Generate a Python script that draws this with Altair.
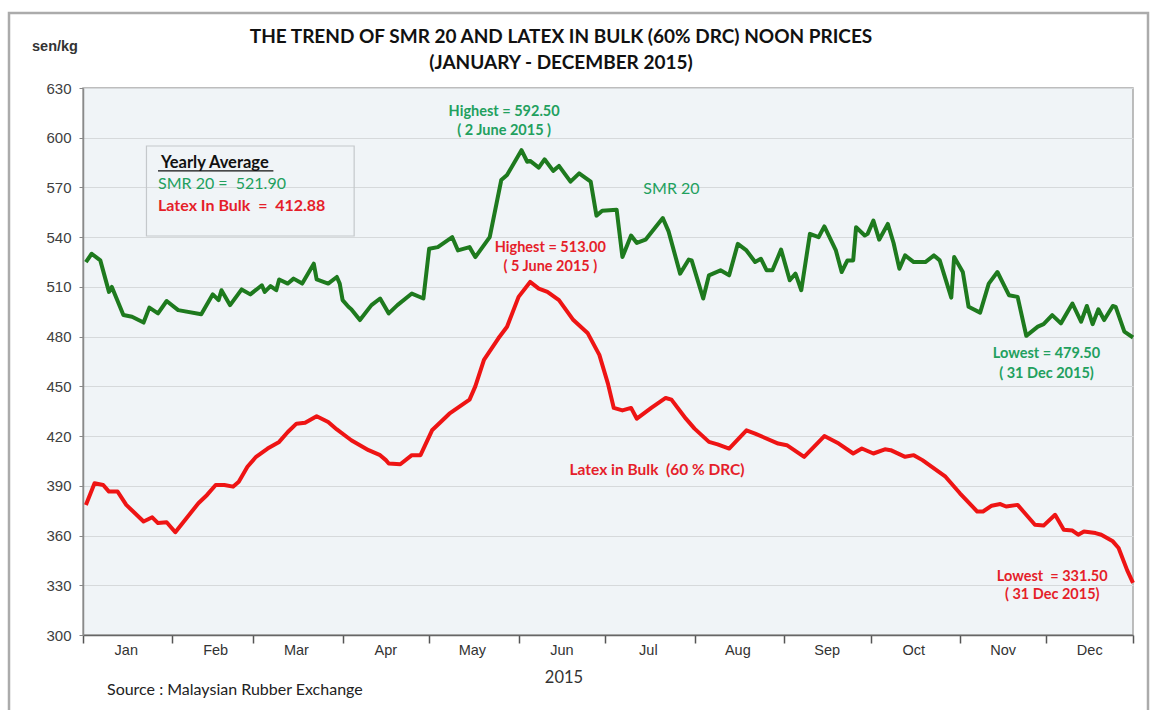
import altair as alt
import pandas as pd

# ---------------- data ----------------
smr_dates = ["01-02","01-04","01-07","01-10","01-11","01-15","01-18","01-22","01-24","01-27","01-30",
             "02-03","02-11","02-15","02-17","02-18","02-21","02-25","02-28",
             "03-04","03-05","03-07","03-09","03-10","03-13","03-15","03-18","03-22","03-23","03-27","03-30","03-31",
             "04-01","04-03","04-04","04-07","04-11","04-14","04-17","04-20","04-25","04-29",
             "05-01","05-04","05-09","05-11","05-15","05-17","05-22","05-26","05-28",
             "06-02","06-04","06-05","06-08","06-10","06-13","06-15","06-19","06-22","06-26","06-28","06-30",
             "07-05","07-07","07-10","07-12","07-15","07-21","07-23","07-27","07-30","07-31",
             "08-04","08-06","08-10","08-13","08-16","08-19","08-22","08-24","08-26","08-28","08-31",
             "09-03","09-05","09-07","09-10","09-13","09-15","09-19","09-21","09-23","09-25","09-26","09-29","09-30",
             "10-02","10-04","10-07","10-09","10-11","10-13","10-16","10-20","10-23","10-25","10-29","10-30",
             "11-02","11-04","11-08","11-11","11-14","11-18","11-21","11-24","11-28","11-30",
             "12-03","12-06","12-10","12-13","12-15","12-17","12-19","12-21","12-24","12-25","12-28","12-31"]
smr_values = [525,530,526,507,510,493,492,488.5,497.5,494,501.5,
              496,493.5,505.5,502,508,499,508.5,505.5,
              511,507,510.5,508,514.5,512,515,512,524,514.5,512,516,512,
              502,498,496.5,490,499,503,494,499,506,503,
              533,534,540,532,534,528,540,574.5,577.5,
              592.5,585.5,586,582,587,580,583,573.5,578.5,573.5,553,556,
              556.5,528,541,536.5,538.5,551.5,543.5,518,526.5,526,
              503,517,520,517,536,532,525,527,520,520,532.5,
              514,518,508,542,540,546.5,532,519,526,526,546,541,542,
              550,538.5,548,536.5,521,529,525,525,529,526,503.5,528,
              519,498,494.5,512,519,505,504,480.5,486,487.5,
              493,488,500,489,498.5,487.5,496.5,490,498.5,498,483,479.5]

latex_dates = ["01-02","01-05","01-08","01-10","01-13","01-16","01-22","01-25","01-27","01-30",
               "02-02","02-10","02-13","02-16","02-19","02-22","02-24","02-27",
               "03-02","03-06","03-10","03-13","03-16","03-19","03-23","03-27","03-30",
               "04-04","04-10","04-14","04-16","04-17","04-21","04-25","04-28",
               "05-02","05-08","05-15","05-17","05-20","05-25","05-28",
               "06-01","06-05","06-08","06-11","06-15","06-20","06-25","06-29",
               "07-02","07-04","07-07","07-10","07-12","07-17","07-22","07-24","07-29",
               "08-01","08-06","08-09","08-13","08-19","08-22","08-30",
               "09-02","09-08","09-15","09-20","09-25","09-28","09-30",
               "10-02","10-06","10-08","10-13","10-16","10-19","10-27",
               "11-01","11-07","11-09","11-12","11-15","11-17","11-21","11-23","11-27","11-30",
               "12-04","12-07","12-10","12-12","12-14","12-18","12-20","12-24","12-26","12-29","12-31"]
latex_values = [378.5,391.5,390.5,386.5,386.5,378.5,368.5,371,367.5,368,
                362,379.5,384.5,390.5,390.5,389.5,392.5,401.5,
                407.5,412.5,416.5,422.5,427.5,428,432,428.5,424,
                417.5,411.5,408.5,405.5,403.5,403,408.5,408.5,
                423.5,433.5,442,450,466,479,486,
                504,513,509,507,502,490,482,469,
                451.5,437,435.5,437,430.5,437,443,442,430.5,
                424.5,416.5,415,412.5,423.5,421.5,415.5,
                414.5,407.5,420,415.5,409.5,412.5,411,
                409.5,412,411.5,407.5,408.5,405.5,395.5,
                385.5,374.5,374.5,378,379,377.5,378.5,374.5,366.5,366,
                372.5,363.5,363,360.5,362.5,361.5,360.5,356.5,352.5,339,331.5]

series_names = ["SMR 20", "Latex in Bulk"]
series_colors = ["#1E7A1E", "#EE1414"]

month_names = ["Jan","Feb","Mar","Apr","May","Jun","Jul","Aug","Sep","Oct","Nov","Dec"]
y_ticks = list(range(300, 631, 30))

GREEN_TXT = "#22A05E"
RED_TXT = "#E51E2A"
NB = "\u00a0"

W, H = 1050, 547


def d(md):
    return "2015-" + md + "T00:00:00"


rows = []
for md, v in zip(smr_dates, smr_values):
    rows.append({"date": d(md), "price": v, "series": series_names[0]})
for md, v in zip(latex_dates, latex_values):
    rows.append({"date": d(md), "price": v, "series": series_names[1]})
df = pd.DataFrame(rows)

xscale = alt.Scale(domain=[alt.DateTime(year=2015, month=1, date=1),
                           alt.DateTime(year=2015, month=12, date=31)], nice=False)
yscale = alt.Scale(domain=[300, 630], nice=False, zero=False)

tick_vals = [alt.DateTime(year=2015, month=m, date=1) for m in range(1, 13)] + \
            [alt.DateTime(year=2015, month=12, date=31)]

lines = alt.Chart(df).mark_line(strokeWidth=4, strokeJoin="round").encode(
    x=alt.X("date:T", scale=xscale,
            axis=alt.Axis(values=tick_vals, labels=False, tickSize=8, tickWidth=1.5,
                          tickColor="#555555", domainColor="#666666", domainWidth=1.5,
                          grid=False, title=None)),
    y=alt.Y("price:Q", scale=yscale,
            axis=alt.Axis(values=y_ticks, tickSize=4, tickColor="#888888",
                          domainColor="#8A8A8A", domainWidth=1.5,
                          gridColor="#D6D9DB", gridWidth=1.2,
                          labelFont="Liberation Sans", labelFontSize=15,
                          labelColor="#404040", labelPadding=8, title=None)),
    color=alt.Color("series:N", scale=alt.Scale(domain=series_names, range=series_colors),
                    legend=None),
    order=alt.Order("date:T"),
)


def label(texts, dates, vals, color, size, weight="bold", align="center", font="Lato"):
    tdf = pd.DataFrame({"date": [d(x) for x in dates], "price": vals, "t": texts})
    return alt.Chart(tdf).mark_text(color=color, fontSize=size, fontWeight=weight,
                                    font=font, align=align, baseline="middle").encode(
        x=alt.X("date:T", scale=xscale),
        y=alt.Y("price:Q", scale=yscale),
        text="t:N",
    )


annotations = [
    label(["Highest = 592.50", "( 2 June 2015 )"], ["05-27", "05-27"], [615.7, 604.2], GREEN_TXT, 14.5),
    label(["SMR 20"], ["07-24"], [569.0], GREEN_TXT, 16, weight="normal"),
    label(["Highest = 513.00", "( 5 June 2015 )"], ["06-12", "06-12"], [533.5, 522.0], RED_TXT, 14.5),
    label(["Latex in Bulk" + NB * 2 + "(60 % DRC)"], ["07-19"], [399.5], RED_TXT, 15.5),
    label(["Lowest = 479.50", "( 31 Dec 2015)"], ["12-01", "12-01"], [469.5, 457.5], GREEN_TXT, 14.5),
    label(["Lowest" + NB * 2 + "= 331.50", "( 31 Dec 2015)"], ["12-03", "12-03"], [335.2, 324.0], RED_TXT, 14.5),
    label(["Yearly Average"], ["01-28"], [584.5], "#111111", 16.5, align="left"),
    label(["SMR 20 =" + NB * 2 + "521.90"], ["01-27"], [572.0], GREEN_TXT, 16, weight="normal", align="left"),
    label(["Latex In Bulk" + NB * 2 + "=" + NB * 2 + "412.88"], ["01-27"], [558.8], RED_TXT, 16, align="left"),
]

box_df = pd.DataFrame({"x1": [d("01-23")], "x2": [d("04-05")], "y1": [595.0], "y2": [540.7]})
box = alt.Chart(box_df).mark_rect(filled=False, stroke="#C4C8CB", strokeWidth=1.2).encode(
    x=alt.X("x1:T", scale=xscale), x2="x2:T",
    y=alt.Y("y1:Q", scale=yscale), y2="y2:Q",
)

ul_df = pd.DataFrame({"x1": [d("01-27")], "x2": [d("03-08")], "y": [580.0]})
underline = alt.Chart(ul_df).mark_rule(color="#111111", strokeWidth=1.3).encode(
    x=alt.X("x1:T", scale=xscale), x2="x2:T",
    y=alt.Y("y:Q", scale=yscale),
)

mdf = pd.DataFrame({"date": [d("%02d-16" % m) for m in range(1, 13)], "t": month_names})
months = alt.Chart(mdf).mark_text(font="Liberation Sans", fontSize=14.5, color="#333333",
                                  baseline="middle").encode(
    x=alt.X("date:T", scale=xscale),
    y=alt.value(H + 16),
    text="t:N",
)


def pix_text(txt, x, y, size, weight="normal", font="Lato", color="#222222", align="center"):
    return alt.Chart(pd.DataFrame({"t": [txt]})).mark_text(
        fontSize=size, fontWeight=weight, font=font, color=color, align=align,
        baseline="middle").encode(x=alt.value(x), y=alt.value(y), text="t:N")


texts = [
    pix_text("THE TREND OF SMR 20 AND LATEX IN BULK (60% DRC) NOON PRICES", 478, -51, 19, "bold", color="#111111"),
    pix_text("(JANUARY - DECEMBER 2015)", 478, -25, 19, "bold", color="#111111"),
    pix_text("sen/kg", -28, -41, 14.5, "bold", font="Liberation Sans", color="#333333"),
    pix_text("2015", 481, H + 43, 16.5, color="#333333"),
    pix_text("Source : Malaysian Rubber Exchange", 24, H + 55, 16, align="left", color="#222222"),
]

frame = alt.Chart(pd.DataFrame({"a": [0]})).mark_rect(
    filled=False, stroke="#ABABAB", strokeWidth=2.5).encode(
    x=alt.value(-74), x2=alt.value(1065), y=alt.value(-75), y2=alt.value(640))

chart = alt.layer(
    lines, box, underline, *annotations, months, *texts, frame
).properties(
    width=W, height=H,
    padding={"left": 83, "top": 88, "right": 20, "bottom": 75},
    autosize=alt.AutoSizeParams(type="none"),
    background="white",
).configure_view(
    fill="#F0F4F7", stroke="#A8A8A8", strokeWidth=1.5,
)

chart.save("out.html", embed_options={"renderer": "svg", "actions": False})
